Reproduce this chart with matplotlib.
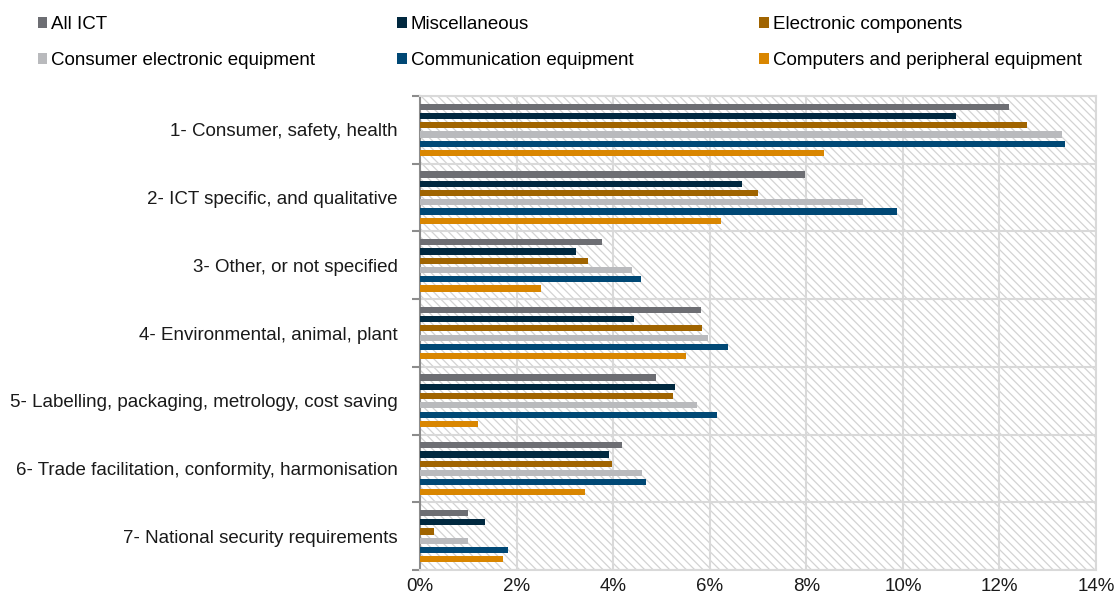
import matplotlib
matplotlib.use("Agg")
import matplotlib.pyplot as plt
from matplotlib.patches import Patch, Rectangle
from matplotlib.ticker import PercentFormatter
import numpy as np

plt.rcParams['font.family'] = ['Liberation Sans', 'DejaVu Sans']
plt.rcParams['hatch.linewidth'] = 0.9

categories = ["1- Consumer, safety, health",
              "2- ICT specific, and qualitative",
              "3- Other, or not specified",
              "4- Environmental, animal, plant",
              "5- Labelling, packaging, metrology, cost saving",
              "6- Trade facilitation, conformity, harmonisation",
              "7- National security requirements"]

series_names = ["All ICT", "Miscellaneous", "Electronic components",
                "Consumer electronic equipment", "Communication equipment",
                "Computers and peripheral equipment"]

# shares in %, one value per category (top to bottom)
all_ict = [12.2, 7.98, 3.77, 5.81, 4.88, 4.19, 0.99]
misc = [11.1, 6.67, 3.24, 4.44, 5.28, 3.92, 1.34]
electronic = [12.56, 6.99, 3.47, 5.84, 5.23, 3.97, 0.28]
consumer = [13.3, 9.17, 4.38, 5.97, 5.73, 4.60, 0.99]
communication = [13.36, 9.88, 4.57, 6.37, 6.14, 4.68, 1.82]
computers = [8.36, 6.24, 2.50, 5.50, 1.20, 3.41, 1.71]

series = [all_ict, misc, electronic, consumer, communication, computers]
colors = ['#6d6e73', '#00283f', '#a06400', '#b9babd', '#004875', '#d98600']

grid_col = '#d9d9d9'
fs = 13.5

fig = plt.figure(figsize=(11.15, 5.99), dpi=100)
ax = fig.add_axes([0.3767, 0.0484, 0.6063, 0.7913])

# hatched plot area
ax.add_patch(Rectangle((0, 0), 1, 1, transform=ax.transAxes, facecolor='white',
                       edgecolor='#d3d3d3', hatch='\\\\\\\\', lw=0, zorder=0))

y = np.arange(len(categories))
step = 0.137
for i, (vals, col) in enumerate(zip(series, colors)):
    ax.barh(y + (i - 2.5) * step, vals, height=0.092, color=col, zorder=3)

ax.set_xlim(0, 14)
ax.set_ylim(len(categories) - 0.5, -0.5)
ax.set_xticks(np.arange(0, 15, 2))
ax.xaxis.set_major_formatter(PercentFormatter(xmax=100, decimals=0))
ax.set_yticks(y)
ax.set_yticklabels(categories)
ax.set_yticks(np.arange(-0.5, len(categories)), minor=True)

ax.set_axisbelow(True)
ax.grid(axis='x', which='major', color=grid_col, lw=1.5, zorder=1)
ax.grid(axis='y', which='minor', color=grid_col, lw=1.5, zorder=1)
ax.grid(axis='y', which='major', visible=False)

ax.tick_params(axis='y', which='major', length=0, pad=16, labelsize=fs, labelcolor='#1a1a1a')
ax.tick_params(axis='y', which='minor', length=6, width=1.5, color='#8c8c8c', direction='out')
ax.tick_params(axis='x', length=0, pad=6, labelsize=fs, labelcolor='#1a1a1a')

for side in ['top', 'right', 'bottom']:
    ax.spines[side].set_color(grid_col)
    ax.spines[side].set_linewidth(1.5)
ax.spines['left'].set_color('#8c8c8c')
ax.spines['left'].set_linewidth(1.5)

# legend: three columns placed at fixed spacing
handles = [Patch(facecolor=c, edgecolor='none') for c in colors]
col_x = [0.034, 0.3565, 0.681]
for k in range(3):
    idx = [k, k + 3]
    fig.legend([handles[j] for j in idx], [series_names[j] for j in idx],
               loc='upper left', bbox_to_anchor=(col_x[k], 0.9725), frameon=False,
               fontsize=fs, handlelength=0.5, handleheight=0.5, handletextpad=0.22,
               labelspacing=1.0, borderpad=0, borderaxespad=0)

fig.savefig("out.png", dpi=100)
